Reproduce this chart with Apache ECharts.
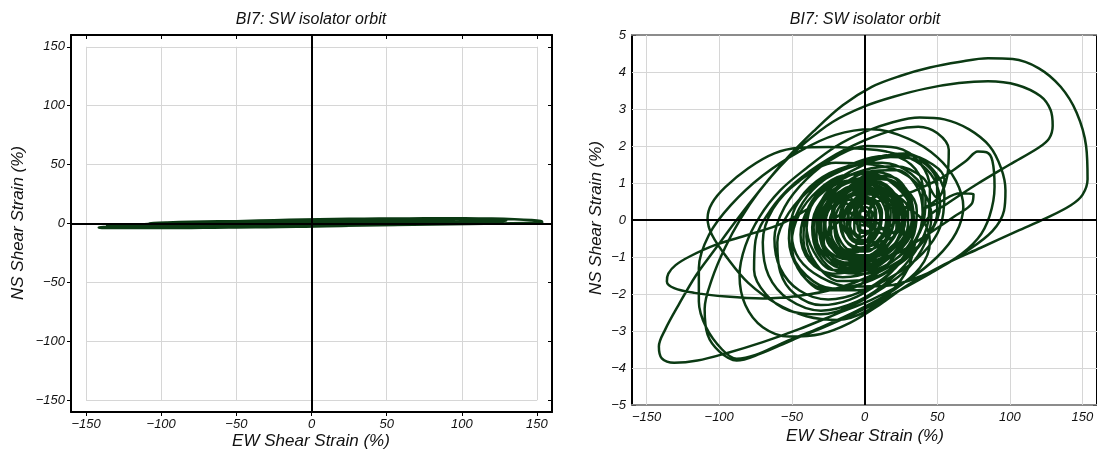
<!DOCTYPE html>
<html>
<head>
<meta charset="utf-8">
<script src="https://cdn.jsdelivr.net/npm/echarts@6/dist/echarts.min.js"></script>
<style>
  html, body { margin: 0; padding: 0; background: #ffffff; }
  #chart { width: 1097px; height: 452px; }
</style>
</head>
<body>
<div id="chart"></div>
<script>
// SW isolator orbit: [EW shear strain %, NS shear strain %] in time order.
// Early small-amplitude motion around the origin.
const buildUp = [
  [0,0],[4,0.25],[7,0.05],[3,-0.3],[-3,-0.25],[-6,0.1],[-2,0.45],[6,0.55],[11,0.2],[8,-0.35],
  [0,-0.55],[-8,-0.35],[-11,0.15],[-6,0.6],[4,0.8],[14,0.55],[16,-0.05],[9,-0.55],[-3,-0.8],
  [-13,-0.55],[-16,0.05],[-10,0.65],[2,0.95],[15,0.8],[21,0.25],[17,-0.45],[5,-0.95],[-9,-1.0],
  [-19,-0.5],[-21,0.2],[-13,0.8],[0,1.05],[13,0.95],[22,0.45],[22,-0.2],[13,-0.8],[0,-1.15],
  [-14,-1.0],[-23,-0.4],[-22,0.3],[-12,0.85],[3,1.2],[20,1.15],[30,0.6],[30,-0.1],[22,-0.8],
  [7,-1.3],[-10,-1.4],[-25,-1.0],[-31,-0.3],[-27,0.4],[-15,0.95],[2,1.3],[22,1.35],[36,0.9],
  [40,0.2],[35,-0.6],[22,-1.2],[3,-1.6],[-17,-1.65],[-33,-1.2],[-40,-0.45],[-37,0.35]
];

// Growing mid-size loops.
const midMotion = [
  [-25,0.9],[-5,1.4],[18,1.7],[38,1.6],[50,1.0],[50,0.2],[40,-0.6],[22,-1.25],[0,-1.7],[-22,-1.85],
  [-40,-1.5],[-50,-0.8],[-50,0.0],[-40,0.75],[-20,1.3],[5,1.65],[28,1.8],[45,1.45],[55,0.7],[52,-0.2],
  [40,-0.9],[20,-1.5],[-5,-1.9],[-28,-1.9],[-45,-1.35],[-52,-0.5],[-47,0.4],[-33,1.05],[-12,1.45],
  [12,1.55],[32,1.25],[42,0.6],[40,-0.15],[28,-0.85],[8,-1.35],[-15,-1.55],[-33,-1.25],[-42,-0.55],
  [-40,0.2],[-30,0.8],[-12,1.2],[8,1.3],[25,1.0],[33,0.35],[30,-0.4],[17,-1.0],[-2,-1.35],[-22,-1.35],
  [-35,-0.85],[-40,-0.1],[-37,0.35]
];

// Strong-motion excursions (largest loops).
const strongMotion = [
  [-57,-0.1],[-80,-0.4],[-103,-0.68],[-120,-0.98],[-130,-1.22],[-135,-1.45],[-136,-1.66],[-131,-1.84],
  [-117,-1.97],[-95,-2.07],[-70,-2.12],[-45,-2.05],[-20,-1.86],[5,-1.5],[28,-1.0],[45,-0.35],[52,0.4],
  [48,1.1],[35,1.6],[15,1.85],
  [-5,1.93],[-25,1.97],[-45,1.95],[-62,1.8],[-80,1.4],[-96,0.88],[-105,0.45],[-108,0.05],[-105,-0.4],
  [-94,-1.05],[-80,-1.7],[-61,-2.25],[-40,-2.6],[-18,-2.7],[2,-2.45],[18,-1.95],[30,-1.3],[36,-0.5],
  [45,0.12],[56,0.42],[77,0.96],[100,1.5],[120,1.96],[127,2.2],[129.5,2.55],[128,2.98],[121,3.35],
  [105,3.65],[85,3.75],[65,3.7],[42,3.55],[20,3.33],[0,3.07],[-22,2.65],[-42,2.05],[-58,1.45],
  [-73,0.75],[-85,0.05],[-96,-0.75],[-105,-1.6],[-110,-2.4],[-108,-3.1],[-100,-3.55],[-88,-3.8],
  [-72,-3.62],[-50,-3.25],[-25,-2.85],[0,-2.4],[22,-1.95],[45,-1.45],[70,-0.85],[88,-0.3],
  [96,0.25],[97,0.8],[94,1.4],[86,2.0],[72,2.45],[55,2.72],[38,2.77],[20,2.65],[0,2.38],[-20,1.98],
  [-40,1.4],[-58,0.8],[-72,0.1],[-82,-0.7],[-86,-1.5],[-82,-2.3],[-70,-2.9],[-52,-3.15],[-30,-3.08],
  [-10,-2.78],[10,-2.3],[30,-1.75],
  [55,-1.2],[80,-0.75],[105,-0.3],[125,0.05],[142,0.4],[150,0.68],[153.5,1.1],[152.5,2.0],[146,2.9],
  [135,3.6],[120,4.1],[102,4.35],[85,4.37],[65,4.27],[45,4.12],[25,3.9],[5,3.6],[-15,3.1],[-35,2.4],
  [-55,1.6],[-72,0.8],[-88,0.0],[-103,-0.8],[-116,-1.5],[-128,-2.3],[-137,-2.95],[-141.5,-3.42],
  [-139.5,-3.74],[-131,-3.86],[-115,-3.8],[-95,-3.6],[-70,-3.3],[-45,-2.95],[-20,-2.55],[5,-2.15],
  [30,-1.62],
  [50,-1.0],[63,-0.35],[68,0.35],[63,1.05],[50,1.7],[30,2.2],[5,2.45],[-20,2.3],[-45,1.85],[-70,1.2],
  [-92,0.4],[-107,-0.4],[-114,-1.3],[-114,-2.2],[-109,-2.9],[-98,-3.5],[-88,-3.75],[-75,-3.65],
  [-55,-3.3],[-30,-2.9],[-5,-2.45],[20,-1.9],[38,-1.3],[45,-0.6],[40,0.0],[28,0.35],[15,0.45],
  [35,0.8],[54,1.16],[70,1.6],[78,1.85],[84,1.83],[88,1.6],[89.5,0.9],[86,0.1],[78,-0.5],[62,-1.05],
  [40,-1.5],[15,-1.78],[-10,-1.8],[-30,-1.55],[-45,-1.05],[-50,-0.4],[-45,0.3],[-32,0.95],[-12,1.45],
  [10,1.72],[30,1.75],[47,1.5],[55,1.1],[52,0.65],[40,0.3],
  [50,0.45],[66,0.72],[75,0.7],[74,0.45],[62,0.1],[45,-0.35],[25,-0.85],[0,-1.3],[-22,-1.45],
  [-38,-1.1],[-44,-0.4],[-38,0.35],[-22,0.95],[0,1.35],[22,1.45],[40,1.15],[50,0.6],
  [57,1.2],[58,1.9],[50,2.35],[37,2.52],[22,2.45],[0,2.15],[-25,1.65],[-48,1.0],[-65,0.25],
  [-75,-0.55],[-76,-1.35],[-68,-2.0],[-52,-2.45],[-30,-2.55],[-8,-2.3],[12,-1.85],[30,-1.3],
  [42,-0.6],[46,0.1],[40,0.8],[25,1.3],[5,1.5],
  [-20,1.55],[-45,1.05],[-63,0.3],[-70,-0.6],[-66,-1.5],[-52,-2.15],[-30,-2.45],[-5,-2.2],[18,-1.6],
  [35,-0.85],[44,0.0],[45,0.85],[38,1.55],[22,1.95],[2,2.0],[-20,1.7],[-40,1.1],[-55,0.35],[-62,-0.5],
  [-58,-1.3],[-45,-1.9],[-25,-2.15],[-3,-1.95],[17,-1.45],[32,-0.75],[40,0.1],[40,0.9],[32,1.5],
  [15,1.75],[5,1.6],
  [-15,1.35],[-35,0.9],[-52,0.2],[-60,-0.6],[-58,-1.4],[-48,-2.0],[-30,-2.3],[-10,-2.15],[10,-1.7],
  [25,-1.1],[33,-0.4],[32,0.3],[22,0.9],[5,1.25],[-15,1.2],[-32,0.8],[-45,0.15],[-50,-0.6],
  [-46,-1.3],[-33,-1.8],[-15,-1.9],[3,-1.6],[18,-1.1],[27,-0.45],[27,0.25],[18,0.8],[2,1.1]
];

// Decaying motion back toward the origin.
const decay = [
  [-18,1.0],[-30,0.5],[-35,-0.2],[-30,-0.9],[-15,-1.3],[5,-1.2],[20,-0.7],[26,0.0],[22,0.65],[8,1.05],
  [-10,1.05],[-25,0.65],[-32,0.0],[-28,-0.7],[-14,-1.15],[3,-1.1],[17,-0.65],[23,0.05],[19,0.6],[5,0.95],
  [10,0.9],[22,0.6],[28,0.0],[22,-0.6],[8,-1.0],[-8,-1.05],[-22,-0.7],[-28,-0.1],[-24,0.5],[-12,0.85],
  [2,0.95],[18,0.75],[30,0.3],[30,-0.4],[20,-0.95],[2,-1.25],[-15,-1.2],[-27,-0.75],[-30,-0.1],
  [-22,0.55],[-6,0.95],[12,1.1],[28,0.85],[36,0.25],[33,-0.5],[20,-1.1],[0,-1.45],[-18,-1.4],
  [-32,-0.9],[-36,-0.2],[-30,0.5],[-14,1.0],
  [4,1.15],[20,1.05],[32,0.55],[34,-0.1],[26,-0.75],[10,-1.15],[-8,-1.3],[-24,-1.05],[-33,-0.5],
  [-33,0.15],[-24,0.7],[-8,1.05],[10,1.15],[26,0.8],[33,0.2],[30,-0.45],[18,-0.95],[0,-1.2],
  [-18,-1.1],[-29,-0.65],[-31,0.0],[-24,0.55],[-10,0.9],[6,1.0],[20,0.75],[27,0.2],[25,-0.4],
  [14,-0.85],[-2,-1.05],[-17,-0.95],[-26,-0.5],[-27,0.1],[-19,0.6],[-5,0.85],[10,0.85],[22,0.5],
  [24,-0.05],[18,-0.6],[5,-0.95],[-10,-0.95],[-21,-0.6],[-24,-0.05],[-18,0.45],[-6,0.75],[8,0.8],
  [18,0.5],[20,0.0],[15,-0.5],[3,-0.8],[-10,-0.8],[-18,-0.45],[-20,0.05],[-14,0.5],[-3,0.7],[9,0.65],
  [16,0.3],[16,-0.2],[9,-0.6],[-2,-0.75],[-12,-0.6],[-16,-0.15],[-12,0.35],[-3,0.6],[7,0.55],
  [12,0.2],[10,-0.3],[3,-0.55],[-6,-0.55],[-10,-0.2],[-7,0.25],[1,0.45],[7,0.3],[7,-0.1],[2,-0.35],
  [-4,-0.3],[-5,0.05],[-1,0.25],[3,0.15],[2,-0.1],
  // off-centre wobbles filling the core
  [-10,0.2],[-20,0.05],[-25,-0.35],[-20,-0.75],[-10,-0.9],[0,-0.75],[5,-0.35],[0,0.05],[-10,0.2],
  [0,0.7],[10,0.85],[20,0.7],[25,0.3],[20,-0.1],[10,-0.25],[0,-0.1],[-5,0.3],[0,0.7],
  [-5,0.1],[-18,-0.05],[-25,-0.5],[-18,-0.95],[-5,-1.1],[8,-0.95],[15,-0.5],[8,-0.05],[-5,0.1],
  [-10,0.65],[-17,0.1],[-10,-0.45],[5,-0.6],[20,-0.45],[27,0.1],[20,0.65],[5,0.8],[-10,0.65],
  [-15,0.5],[-24,0.3],[-27,-0.2],[-24,-0.7],[-15,-0.9],[-6,-0.7],[-3,-0.2],[-6,0.3],[-15,0.5],
  [6,0.6],[15,0.8],[24,0.6],[27,0.2],[24,-0.2],[15,-0.4],[6,-0.2],[3,0.2],[6,0.6],
  [5,0.75],[-15,0.55],[-28,0.0],[-28,-0.6],[-15,-1.05],[5,-1.1],[22,-0.7],[30,-0.1],[24,0.5],[5,0.75],
  [-8,0.45],[-14,0.0],[-10,-0.5],[-2,-0.65],[4,-0.3],[2,0.2],[-8,0.45],
  [8,0.5],[3,0.15],[6,-0.25],[14,-0.2],[18,0.2],[14,0.55],[8,0.5],
  [-10,0.9],[-22,0.5],[-27,-0.1],[-22,-0.75],[-9,-1.05],[6,-0.9],[16,-0.4],[18,0.2],[12,0.7],[0,0.9],
  [-13,0.7],[-21,0.2],[-20,-0.45],[-11,-0.85],[2,-0.85],[12,-0.45],[15,0.1],[10,0.6],[-1,0.8],
  [-12,0.55],[-17,0.0],[-13,-0.55],[-3,-0.75],[7,-0.5],[11,0.0],[7,0.5],[-2,0.65],
  [-9,0.4],[-12,-0.1],[-8,-0.5],[0,-0.6],[7,-0.3],[8,0.2],[3,0.5],[-4,0.5],
  [-7,0.2],[-7,-0.3],[-2,-0.45],[4,-0.25],[5,0.15],[1,0.35],[-3,0.25],[-3,-0.1],[0,-0.15]
];

// Tick values
const strainTicks = [-150, -100, -50, 0, 50, 100, 150];
const nsZoomTicks = [-5, -4, -3, -2, -1, 0, 1, 2, 3, 4, 5];
const zoomGridY = [-4, -3, -2, -1, 1, 2, 3, 4];

const chartTitle = 'BI7: SW isolator orbit';
const ewName = 'EW Shear Strain (%)';
const nsName = 'NS Shear Strain (%)';

const orbit = buildUp.concat(midMotion, strongMotion, decay);

const FONT = '"Liberation Sans", Arial, Helvetica, sans-serif';
const LINE_COLOR = '#0b3a13';
const minus = v => String(v).replace('-', '\u2212');
const labelStyle = { fontFamily: FONT, fontStyle: 'italic', fontSize: 13, color: '#111' };

function frameAxis(gridIndex, position, opts) {
  return Object.assign({
    type: 'value', gridIndex, position,
    axisLine: { show: true, onZero: false, lineStyle: { color: '#000', width: 2 } },
    axisTick: { show: true, inside: true, length: 4, lineStyle: { color: '#000', width: 1 } },
    axisLabel: { show: false },
    splitLine: { show: false },
    axisPointer: { show: false }
  }, opts);
}

const chart = echarts.init(document.getElementById('chart'), null, { renderer: 'canvas' });

// Gridlines of the full-range panel stop at the ±150 box
const boxGrid = [];
strainTicks.forEach(v => {
  boxGrid.push([{ coord: [v, -150] }, { coord: [v, 150] }]);
  boxGrid.push([{ coord: [-150, v] }, { coord: [150, v] }]);
});
// Gridlines of the zoomed panel span the whole plot
const zoomGrid = strainTicks.map(v => ({ xAxis: v })).concat(zoomGridY.map(v => ({ yAxis: v })));

const gridLineStyle = { color: '#d6d6d6', width: 1, type: 'solid' };
const zeroLineStyle = { color: '#000', width: 2, type: 'solid' };

function markSeries(xi, yi, lines, style, z) {
  return {
    type: 'line', xAxisIndex: xi, yAxisIndex: yi, data: [[0, 0]], symbol: 'none',
    lineStyle: { width: 0 }, silent: true, z,
    markLine: { silent: true, symbol: ['none', 'none'], label: { show: false }, z,
      animation: false, lineStyle: style, data: lines }
  };
}

function orbitSeries(xi, yi, width) {
  return {
    type: 'line', xAxisIndex: xi, yAxisIndex: yi, data: orbit, showSymbol: false, symbol: 'none',
    smooth: 0.35, silent: true, z: 3,
    lineStyle: { color: LINE_COLOR, width: width, join: 'round', cap: 'round' }
  };
}

function text(x, y, str, size, rotation) {
  return { type: 'text', x, y, rotation: rotation || 0, silent: true,
    style: { text: str, font: 'italic ' + size + 'px ' + FONT, fill: '#111',
      align: 'center', verticalAlign: 'middle', textAlign: 'center', textVerticalAlign: 'middle' } };
}

const option = {
  animation: false,
  backgroundColor: '#ffffff',
  grid: [
    { left: 71, top: 35, width: 481, height: 377 },
    { left: 632, top: 35, width: 467, height: 370 }
  ],
  xAxis: [
    frameAxis(0, 'bottom', {
      min: -160, max: 160,
      axisTick: { show: true, inside: false, length: 4, customValues: strainTicks, lineStyle: { color: '#000' } },
      axisLabel: Object.assign({ show: true, customValues: strainTicks, margin: 6, formatter: minus }, labelStyle)
    }),
    frameAxis(0, 'top', { min: -160, max: 160,
      axisTick: { show: true, inside: true, length: 4, customValues: strainTicks, lineStyle: { color: '#000' } } }),
    frameAxis(1, 'bottom', {
      min: -160, max: 160,
      axisLine: { show: true, onZero: false, lineStyle: { color: '#8c8c8c', width: 2 } },
      axisTick: { show: true, inside: true, length: 4, customValues: strainTicks, lineStyle: { color: '#8c8c8c' } },
      axisLabel: Object.assign({ show: true, customValues: strainTicks, margin: 6, formatter: minus }, labelStyle)
    }),
    frameAxis(1, 'top', {
      min: -160, max: 160,
      axisLine: { show: true, onZero: false, lineStyle: { color: '#8c8c8c', width: 2 } },
      axisTick: { show: true, inside: true, length: 4, customValues: strainTicks, lineStyle: { color: '#8c8c8c' } }
    })
  ],
  yAxis: [
    frameAxis(0, 'left', {
      min: -160, max: 160,
      axisTick: { show: true, inside: false, length: 4, customValues: strainTicks, lineStyle: { color: '#000' } },
      axisLabel: Object.assign({ show: true, customValues: strainTicks, margin: 6, formatter: minus }, labelStyle)
    }),
    frameAxis(0, 'right', { min: -160, max: 160,
      axisTick: { show: true, inside: true, length: 4, customValues: strainTicks, lineStyle: { color: '#000' } } }),
    frameAxis(1, 'left', {
      min: -5, max: 5, interval: 1,
      axisTick: { show: true, inside: true, length: 4, lineStyle: { color: '#555' } },
      axisLabel: Object.assign({ show: true, customValues: nsZoomTicks, margin: 6, formatter: minus }, labelStyle)
    }),
    frameAxis(1, 'right', { min: -5, max: 5, interval: 1,
      axisTick: { show: true, inside: true, length: 4, lineStyle: { color: '#555' } } })
  ],
  graphic: [
    text(311, 20, chartTitle, 16),
    text(865, 20, chartTitle, 16),
    text(311, 441, ewName, 17),
    text(865, 436, ewName, 17),
    text(18, 223, nsName, 17, Math.PI / 2),
    text(596, 218, nsName, 17, Math.PI / 2)
  ],
  series: [
    markSeries(0, 0, boxGrid, gridLineStyle, 1),
    orbitSeries(0, 0, 2.6),
    markSeries(0, 0, [{ xAxis: 0 }, { yAxis: 0 }], zeroLineStyle, 6),
    markSeries(2, 2, zoomGrid, gridLineStyle, 1),
    orbitSeries(2, 2, 2.5),
    markSeries(2, 2, [{ xAxis: 0 }, { yAxis: 0 }], zeroLineStyle, 6)
  ]
};

chart.setOption(option);
</script>
</body>
</html>
